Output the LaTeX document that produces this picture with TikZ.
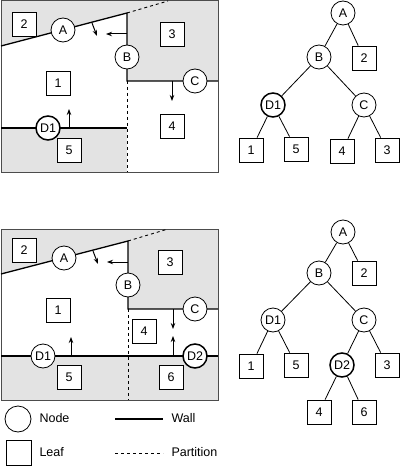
\documentclass[tikz,border=0pt]{standalone}
\usepackage{fontspec}
\setmainfont{Liberation Sans}
\usetikzlibrary{arrows.meta}
\begin{document}
\begin{tikzpicture}[x=1pt,y=-1pt,
  every node/.style={font=\fontsize{12.5}{14}\selectfont},
  bspnode/.style={circle,draw=black,fill=white,line width=0.8pt,minimum size=24pt,inner sep=0pt},
  newnode/.style={bspnode,line width=1.5pt},
  leaf/.style={rectangle,draw=black,fill=white,line width=0.8pt,minimum size=24pt,inner sep=0pt},
  wall/.style={line width=1.3pt},
  partition/.style={line width=0.9pt,dash pattern=on 3pt off 3pt},
  frame/.style={draw=black!70,line width=1pt},
  region/.style={fill=black!11},
  normal/.style={-{Stealth[length=6pt,width=4.5pt]},line width=1pt},
  edge/.style={line width=0.8pt}]
\useasboundingbox (0,0) rectangle (400,468);

% ---------- top map ----------
\fill[region] (1,1) rectangle (218,172);
\fill[white] (1,46) -- (127,13) -- (127,128) -- (1,128) -- cycle;
\fill[white] (127,81) rectangle (218,172);
\draw[frame] (1,1) rectangle (218,172);
\coordinate (ta1) at (1,46);
\coordinate (ta2) at (127,13);
\coordinate (ta3) at (168,1);
\coordinate (tc1) at (127,81);
\coordinate (tc2) at (218,81);
\coordinate (tbot) at (127,172);
\coordinate (td1) at (1,128);
\coordinate (td2) at (127,128);
\draw[wall] (ta1) -- (ta2) -- (tc1) -- (tc2);
\draw[partition] (ta2) -- (ta3);
\draw[partition] (tc1) -- (tbot);
\draw[wall] (td1) -- (td2);
\coordinate (tna1) at (92,23); \coordinate (tna2) at (97,36);
\coordinate (tnb1) at (127,34); \coordinate (tnb2) at (106,34);
\coordinate (tnc1) at (172,81); \coordinate (tnc2) at (172,101);
\coordinate (tnd1) at (69,128); \coordinate (tnd2) at (69,109);
\draw[normal] (tna1) -- (tna2);
\draw[normal] (tnb1) -- (tnb2);
\draw[normal] (tnc1) -- (tnc2);
\draw[normal] (tnd1) -- (tnd2);
\node[bspnode] (tmA) at (63,30) {A};
\node[bspnode] (tmB) at (127,57) {B};
\node[bspnode] (tmC) at (195,81) {C};
\node[newnode] (tmD) at (48,128) {D1};
\node[leaf] (tm2) at (24,24) {2};
\node[leaf] (tm3) at (172,34) {3};
\node[leaf] (tm1) at (58,83) {1};
\node[leaf] (tm4) at (172,126) {4};
\node[leaf] (tm5) at (69,150) {5};

% ---------- top tree ----------
\node[bspnode] (ttA) at (343,13) {A};
\node[bspnode] (ttB) at (319,57) {B};
\node[leaf] (tt2) at (364,58) {2};
\node[newnode] (ttD) at (273,105) {D1};
\node[bspnode] (ttC) at (364,105) {C};
\node[leaf] (tt1) at (251,150) {1};
\node[leaf] (tt5) at (296,149) {5};
\node[leaf] (tt4) at (342,151) {4};
\node[leaf] (tt3) at (387,150) {3};
\draw[edge] (ttA) -- (ttB);
\draw[edge] (ttA) -- (tt2);
\draw[edge] (ttB) -- (ttD);
\draw[edge] (ttB) -- (ttC);
\draw[edge] (ttD) -- (tt1);
\draw[edge] (ttD) -- (tt5);
\draw[edge] (ttC) -- (tt4);
\draw[edge] (ttC) -- (tt3);

% ---------- bottom map ----------
\fill[region] (1,229) rectangle (218,400);
\fill[white] (1,274) -- (128,241) -- (128,356) -- (1,356) -- cycle;
\fill[white] (128,309) rectangle (218,356);
\draw[frame] (1,229) rectangle (218,400);
\coordinate (ba1) at (1,274);
\coordinate (ba2) at (128,241);
\coordinate (ba3) at (168,229);
\coordinate (bc1) at (128,309);
\coordinate (bc2) at (218,309);
\coordinate (bbot) at (128,400);
\coordinate (bd1) at (1,356);
\coordinate (bd2) at (218,356);
\draw[wall] (ba1) -- (ba2) -- (bc1) -- (bc2);
\draw[partition] (ba2) -- (ba3);
\draw[partition] (bc1) -- (bbot);
\draw[wall] (bd1) -- (bd2);
\coordinate (bna1) at (93,251); \coordinate (bna2) at (98,264);
\coordinate (bnb1) at (128,262); \coordinate (bnb2) at (107,262);
\coordinate (bnc1) at (173,309); \coordinate (bnc2) at (173,329);
\coordinate (bnd1) at (71,356); \coordinate (bnd2) at (71,337);
\coordinate (bne1) at (173,356); \coordinate (bne2) at (173,336);
\draw[normal] (bna1) -- (bna2);
\draw[normal] (bnb1) -- (bnb2);
\draw[normal] (bnc1) -- (bnc2);
\draw[normal] (bnd1) -- (bnd2);
\draw[normal] (bne1) -- (bne2);
\node[bspnode] (bmA) at (64,258) {A};
\node[bspnode] (bmB) at (128,285) {B};
\node[bspnode] (bmC) at (195,309) {C};
\node[bspnode] (bmD) at (43,356) {D1};
\node[newnode] (bmE) at (195,356) {D2};
\node[leaf] (bm2) at (24,250) {2};
\node[leaf] (bm3) at (170,262) {3};
\node[leaf] (bm1) at (58,310) {1};
\node[leaf] (bm4) at (144,331) {4};
\node[leaf] (bm5) at (69,377) {5};
\node[leaf] (bm6) at (171,377) {6};

% ---------- bottom tree ----------
\node[bspnode] (btA) at (343,232) {A};
\node[bspnode] (btB) at (319,273) {B};
\node[leaf] (bt2) at (364,273) {2};
\node[bspnode] (btD) at (273,320) {D1};
\node[bspnode] (btC) at (364,320) {C};
\node[leaf] (bt1) at (251,366) {1};
\node[leaf] (bt5) at (296,365) {5};
\node[newnode] (btE) at (342,365) {D2};
\node[leaf] (bt3) at (387,365) {3};
\node[leaf] (bt4) at (319,412) {4};
\node[leaf] (bt6) at (364,412) {6};
\draw[edge] (btA) -- (btB);
\draw[edge] (btA) -- (bt2);
\draw[edge] (btB) -- (btD);
\draw[edge] (btB) -- (btC);
\draw[edge] (btD) -- (bt1);
\draw[edge] (btD) -- (bt5);
\draw[edge] (btC) -- (btE);
\draw[edge] (btC) -- (bt3);
\draw[edge] (btE) -- (bt4);
\draw[edge] (btE) -- (bt6);

% ---------- legend ----------
\node[bspnode,minimum size=26pt] (lgN) at (18,419) {};
\node[anchor=west] (lgNt) at (36,418) {Node};
\node[leaf,minimum size=25pt] (lgL) at (19,453) {};
\node[anchor=west] (lgLt) at (36,452) {Leaf};
\coordinate (lw1) at (115,419); \coordinate (lw2) at (163,419);
\coordinate (lp1) at (115,453); \coordinate (lp2) at (163,453);
\draw[wall] (lw1) -- (lw2);
\draw[partition,line width=0.8pt] (lp1) -- (lp2);
\node[anchor=west] (lgWt) at (168,418) {Wall};
\node[anchor=west] (lgPt) at (168,452) {Partition};
\end{tikzpicture}
\end{document}
